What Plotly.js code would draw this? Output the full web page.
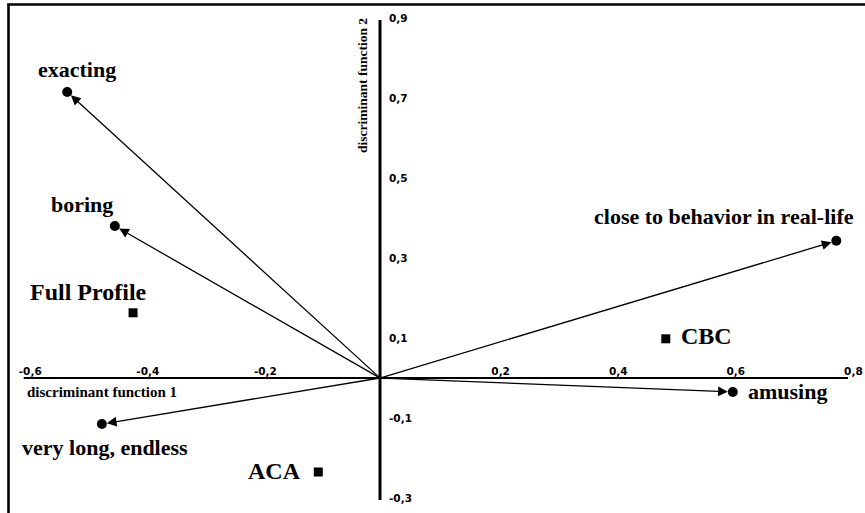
<!DOCTYPE html>
<html>
<head>
<meta charset="utf-8">
<script src="https://cdn.plot.ly/plotly-3.0.1.min.js"></script>
<style>html,body{margin:0;padding:0;background:#fff;} #chart{width:865px;height:513px;}</style>
</head>
<body>
<div id="chart"></div>
<script>
// ---- data ----
var attrNames = ['exacting', 'boring', 'close to behavior in real-life', 'amusing', 'very long, endless'];
var attrX = [-0.532, -0.451, 0.776, 0.600, -0.473];
var attrY = [0.715, 0.380, 0.343, -0.035, -0.115];

var methodNames = ['Full Profile', 'CBC', 'ACA'];
var methodX = [-0.420, 0.486, -0.105];
var methodY = [0.163, 0.098, -0.235];

var xTickVals = [-0.6, -0.4, -0.2, 0.2, 0.4, 0.6, 0.8];
var xTickText = ['-0,6', '-0,4', '-0,2', '0,2', '0,4', '0,6', '0,8'];
var yTickVals = [0.9, 0.7, 0.5, 0.3, 0.1, -0.1, -0.3];
var yTickText = ['0,9', '0,7', '0,5', '0,3', '0,1', '-0,1', '-0,3'];

var xTitle = 'discriminant function 1';
var yTitle = 'discriminant function 2';

// ---- styling / layout ----
var W = 865, H = 513;
var xRange = [-0.6463, 0.8248];
var yRange = [-0.3375, 0.945];
var serif = 'Liberation Serif, Times New Roman, serif';

function bold(t) { return '<b>' + t + '</b>'; }

// label offsets (pixels) relative to each mark
var attrLabelStyle = [
  {dx: 10, dy: 23, anchor: 'center'},
  {dx: -33, dy: 22, anchor: 'center'},
  {dx: -112, dy: 24, anchor: 'center'},
  {dx: 13, dy: 1, anchor: 'left'},
  {dx: 3, dy: -23, anchor: 'center'}
];
var methodLabelStyle = [
  {dx: -45, dy: 21, anchor: 'center', size: 24},
  {dx: 13, dy: 3, anchor: 'left', size: 24},
  {dx: -15, dy: 1, anchor: 'right', size: 24}
];

var traces = [
  {type: 'scatter', mode: 'markers', x: attrX, y: attrY,
   marker: {symbol: 'circle', size: 10, color: '#000'}, hoverinfo: 'skip'},
  {type: 'scatter', mode: 'markers', x: methodX, y: methodY,
   marker: {symbol: 'square', size: 9, color: '#000'}, hoverinfo: 'skip'}
];

var annotations = [];
for (var i = 0; i < attrNames.length; i++) {
  annotations.push({
    x: attrX[i], y: attrY[i], xref: 'x', yref: 'y',
    ax: 0, ay: 0, axref: 'x', ayref: 'y',
    showarrow: true, arrowhead: 2, arrowsize: 1.5, arrowwidth: 1.3,
    arrowcolor: '#000', standoff: 5, text: ''
  });
  var s = attrLabelStyle[i];
  annotations.push({
    x: attrX[i], y: attrY[i], xref: 'x', yref: 'y', showarrow: false,
    text: attrNames[i], xanchor: s.anchor, yanchor: 'middle',
    xshift: s.dx, yshift: s.dy,
    font: {family: serif, size: 22, color: '#000', weight: 'bold'}
  });
}
for (var j = 0; j < methodNames.length; j++) {
  var m = methodLabelStyle[j];
  annotations.push({
    x: methodX[j], y: methodY[j], xref: 'x', yref: 'y', showarrow: false,
    text: methodNames[j], xanchor: m.anchor, yanchor: 'middle',
    xshift: m.dx, yshift: m.dy,
    font: {family: serif, size: m.size, color: '#000', weight: 'bold'}
  });
}
annotations.push({
  x: 25 / W, y: 1 - 392 / H, xref: 'paper', yref: 'paper', showarrow: false,
  text: xTitle, xanchor: 'left', yanchor: 'middle',
  font: {family: serif, size: 15, color: '#000', weight: 'bold'}
});
annotations.push({
  x: 362 / W, y: 1 - 86 / H, xref: 'paper', yref: 'paper', showarrow: false,
  text: yTitle, textangle: -90, xanchor: 'center', yanchor: 'middle',
  font: {family: serif, size: 13.5, color: '#000', weight: 'bold'}
});

var xMin = Math.min.apply(null, xTickVals), xMax = Math.max.apply(null, xTickVals);
var yMin = Math.min.apply(null, yTickVals), yMax = Math.max.apply(null, yTickVals);

var shapes = [
  {type: 'line', xref: 'x', yref: 'y', x0: xMin - 0.006, x1: xMax - 0.004, y0: 0, y1: 0,
   line: {color: '#000', width: 2.2}},
  {type: 'line', xref: 'x', yref: 'y', x0: 0, x1: 0, y0: yMin - 0.005, y1: yMax - 0.005,
   line: {color: '#000', width: 3}},
  {type: 'line', xref: 'paper', yref: 'paper', x0: 8.5 / W, x1: 8.5 / W, y0: 0, y1: 1 - 4.5 / H,
   line: {color: '#000', width: 2.6}},
  {type: 'line', xref: 'paper', yref: 'paper', x0: 7.2 / W, x1: 1, y0: 1 - 4.5 / H, y1: 1 - 4.5 / H,
   line: {color: '#000', width: 2.6}}
];

var xZeroFrac = (0 - xRange[0]) / (xRange[1] - xRange[0]);
var yZeroFrac = (0 - yRange[0]) / (yRange[1] - yRange[0]);
var tickFont = {family: 'DejaVu Sans, sans-serif', size: 10.5, color: '#000', weight: 700};

var layout = {
  width: W, height: H, autosize: false,
  margin: {l: 0, r: 0, t: 0, b: 0, pad: 0},
  paper_bgcolor: '#fff', plot_bgcolor: '#fff',
  showlegend: false,
  xaxis: {
    range: xRange, domain: [0, 1], anchor: 'free', position: yZeroFrac, side: 'top',
    showgrid: false, zeroline: false, showline: false, ticks: '',
    tickmode: 'array', tickvals: xTickVals, ticktext: xTickText.map(bold),
    ticklabelstandoff: 1, ticklabelshift: 3,
    tickfont: tickFont, fixedrange: true
  },
  yaxis: {
    range: yRange, domain: [0, 1], anchor: 'free', position: xZeroFrac, side: 'right',
    showgrid: false, zeroline: false, showline: false, ticks: '',
    tickmode: 'array', tickvals: yTickVals, ticktext: yTickText.map(bold),
    ticklabelstandoff: 8,
    tickfont: tickFont, fixedrange: true
  },
  shapes: shapes,
  annotations: annotations
};

Plotly.newPlot('chart', traces, layout, {displayModeBar: false, staticPlot: true});
</script>
</body>
</html>
